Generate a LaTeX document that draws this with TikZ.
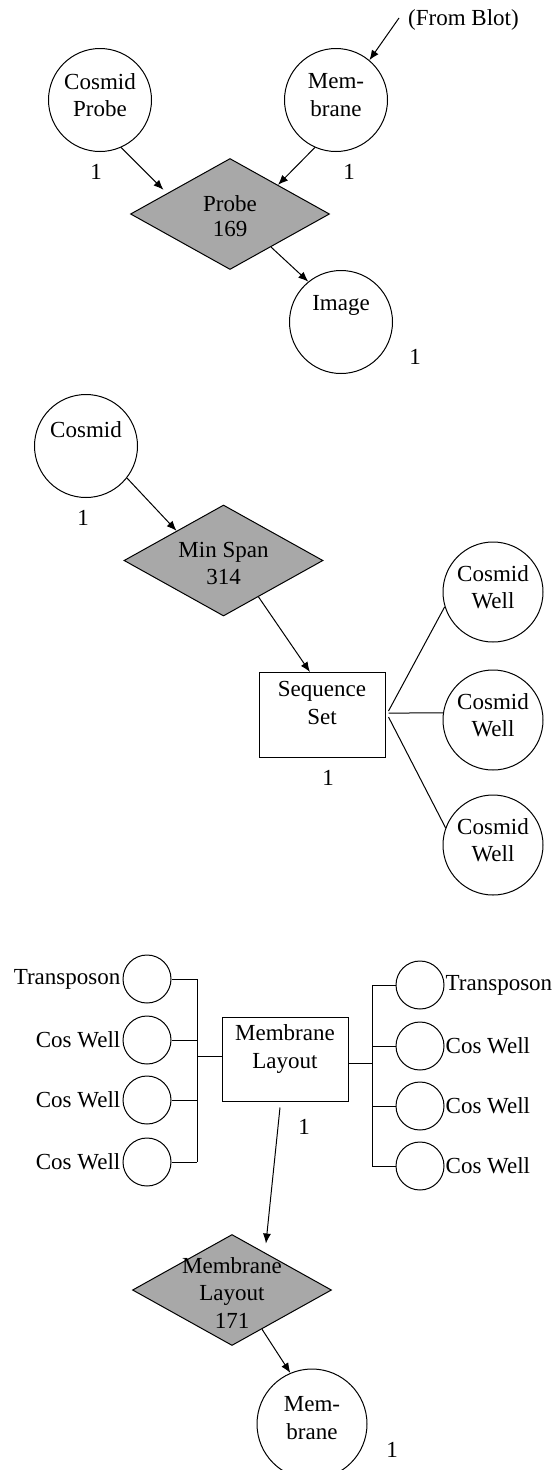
\documentclass[tikz,border=0pt]{standalone}
\usepackage{fontspec}
\setmainfont{Liberation Serif}
\usetikzlibrary{shapes.geometric,calc,arrows.meta}
\definecolor{procgray}{RGB}{168,168,168}

\begin{document}
\begin{tikzpicture}[x=1pt,y=-1pt,
  every node/.style={font=\fontsize{23}{27.5}\selectfont},
  every label/.style={align=center,inner sep=0pt},
  ent/.style={circle,draw,line width=1pt,minimum size=103pt,inner sep=0pt},
  slot/.style={circle,draw,line width=1pt,minimum size=48pt,inner sep=0pt},
  proc/.style={diamond,draw,line width=1pt,fill=procgray,minimum width=199pt,minimum height=111pt,inner sep=0pt},
  rec/.style={rectangle,draw,line width=1pt,minimum width=126pt,minimum height=85pt,inner sep=0pt},
  num/.style={inner sep=0pt},
  arr/.style={line width=1pt,-{Latex[length=10pt,width=8pt]}},
  wire/.style={line width=1pt}]
\useasboundingbox (0,0) rectangle (556,1470);

% ---- probe step ----
\node[ent, label={[yshift=5pt]center:Cosmid\\Probe}] (cp) at (100,100) {};
\node[ent, label={[yshift=5pt]center:Mem-\\brane}] (mem) at (336,100) {};
\node[anchor=west, inner sep=0pt] (blot) at (408,20) {(From Blot)};
\node[proc, label={[yshift=-2pt]center:Probe\\[-3pt]169}] (p169) at (230,214) {};
\node[ent, label={[yshift=17pt]center:Image}] (img) at (341,322) {};
\node[num] (n1) at (96,172) {1};
\node[num] (n2) at (349,172) {1};
\node[num] (n3) at (415,357) {1};

\draw[arr] ($(blot.west)+(-9,-2)$) -- (mem.50);
\draw[arr, shorten >=5pt] (cp.-66) -- ($(p169.west)!0.37!(p169.north)$);
\draw[arr] (mem.-114) -- ($(p169.north)!0.48!(p169.east)$);
\draw[arr] ($(p169.south)!0.41!(p169.east)$) -- (img.129);

% ---- minimum spanning step ----
\node[ent, label={[yshift=16pt]center:Cosmid}] (cos) at (86,446) {};
\node[num] (n4) at (83,518) {1};
\node[proc, label={[yshift=-3pt]center:Min Span\\314}] (ms) at (223.5,560.5) {};
\node[rec, label={[yshift=12pt]center:Sequence\\Set}] (ss) at (322,715) {};
\node[num] (n5) at (328,778) {1};
\node[ent, minimum size=100pt, label={[yshift=5pt]center:Cosmid\\Well}] (w1) at (493,592) {};
\node[ent, minimum size=100pt, label={[yshift=5pt]center:Cosmid\\Well}] (w2) at (493,720) {};
\node[ent, minimum size=100pt, label={[yshift=5pt]center:Cosmid\\Well}] (w3) at (493,845) {};

\draw[arr] (cos.-38) -- ($(ms.west)!0.53!(ms.north)$);
\draw[arr] ($(ms.south)!0.35!(ms.east)$) -- ($(ss.north west)!0.405!(ss.north east)$);
\draw[wire] ($(ss.east)+(3,-4)$) -- (w1.197);
\draw[wire] ($(ss.east)+(3,-2)$) -- (w2.172);
\draw[wire] ($(ss.east)+(3,2)$) -- (w3.160);

% ---- membrane layout step ----
\node[rec, minimum height=84pt, label={[yshift=10pt]center:Membrane\\Layout}] (ml) at (285,1059) {};
\node[num] (n6) at (304,1127) {1};

\node[slot] (L1) at (147,979) {};
\node[slot] (L2) at (147,1040) {};
\node[slot] (L3) at (147,1100) {};
\node[slot] (L4) at (147,1162) {};
\node[anchor=east, inner sep=2pt] (lt1) at (L1.west) {Transposon};
\node[anchor=east, inner sep=2pt] (lt2) at (L2.west) {Cos Well};
\node[anchor=east, inner sep=2pt] (lt3) at (L3.west) {Cos Well};
\node[anchor=east, inner sep=2pt] (lt4) at (L4.west) {Cos Well};

\node[slot] (R1) at (420,985) {};
\node[slot] (R2) at (420,1046) {};
\node[slot] (R3) at (420,1106) {};
\node[slot] (R4) at (420,1166) {};
\node[anchor=west, inner sep=1pt] (rt1) at (R1.east) {Transposon};
\node[anchor=west, inner sep=1pt] (rt2) at (R2.east) {Cos Well};
\node[anchor=west, inner sep=1pt] (rt3) at (R3.east) {Cos Well};
\node[anchor=west, inner sep=1pt] (rt4) at (R4.east) {Cos Well};

\coordinate (lb) at (197,0);
\coordinate (rb) at (372,0);
\foreach \k in {1,2,3,4} {
  \draw[wire] (L\k.east) -- (L\k.east -| lb);
  \draw[wire] (R\k.west) -- (R\k.west -| rb);
}
\draw[wire] (L1.east -| lb) -- (L4.east -| lb);
\draw[wire] (R1.west -| rb) -- (R4.west -| rb);
\draw[wire] ($(ml.west)+(0,-3)$) -- ($(ml.west -| lb)+(0,-3)$);
\draw[wire] ($(ml.east)+(0,4)$) -- ($(ml.east -| rb)+(0,4)$);

\node[proc, label={[yshift=-3pt]center:Membrane\\Layout\\171}] (d171) at (232,1290) {};
\node[ent, minimum size=110pt, label={[yshift=6pt]center:Mem-\\brane}] (mb) at (312,1424) {};
\node[num] (n7) at (392,1450) {1};

\draw[arr, shorten >=9pt] ($(ml.south)+(-5,6)$) -- ($(d171.north)!0.33!(d171.east)$);
\draw[arr] ($(d171.south)!0.30!(d171.east)$) -- (mb.113);
\end{tikzpicture}
\end{document}
